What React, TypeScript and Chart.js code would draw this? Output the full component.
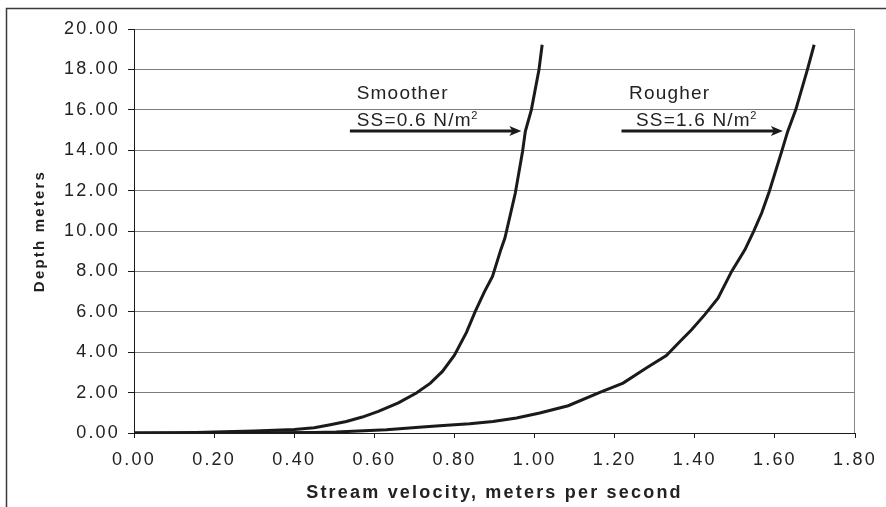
import React, { useEffect, useRef } from 'react';
import { Chart, registerables } from 'chart.js';

Chart.register(...registerables);

// ---- data ----
const SMOOTH_V = [0, 0.10, 0.155, 0.20, 0.25, 0.30, 0.35, 0.40, 0.45, 0.49, 0.53, 0.57, 0.61, 0.66, 0.705, 0.74, 0.77, 0.80, 0.83, 0.852, 0.875, 0.895, 0.916, 0.926, 0.952, 0.970, 0.977, 0.992, 1.011, 1.019];
const SMOOTH_D = [0, 0.01, 0.03, 0.05, 0.07, 0.10, 0.13, 0.17, 0.26, 0.41, 0.57, 0.79, 1.07, 1.49, 1.98, 2.47, 3.05, 3.85, 4.98, 6.02, 7.0, 7.75, 9.09, 9.65, 11.88, 13.94, 14.93, 16.0, 17.98, 19.22];

const ROUGH_V = [0, 0.15, 0.30, 0.45, 0.505, 0.56, 0.63, 0.72, 0.763, 0.838, 0.896, 0.955, 1.013, 1.084, 1.163, 1.221, 1.279, 1.329, 1.363, 1.392, 1.425, 1.458, 1.492, 1.525, 1.547, 1.567, 1.586, 1.617, 1.632, 1.652, 1.681, 1.698];
const ROUGH_D = [0, 0.0, 0.01, 0.03, 0.05, 0.10, 0.16, 0.30, 0.36, 0.46, 0.57, 0.74, 0.99, 1.35, 2.01, 2.47, 3.22, 3.83, 4.53, 5.11, 5.86, 6.68, 8.0, 9.07, 9.98, 10.89, 11.96, 13.94, 14.93, 16.0, 17.98, 19.22];

const X_TICKS = [0, 0.2, 0.4, 0.6, 0.8, 1.0, 1.2, 1.4, 1.6, 1.8];
const Y_TICKS = [0, 2, 4, 6, 8, 10, 12, 14, 16, 18, 20];

const X_TITLE = 'Stream velocity, meters per second';
const Y_TITLE = 'Depth meters';

// annotation labels, anchored in data units
const NOTE_TITLES = ['Smoother', 'Rougher'];
const NOTE_SS = ['SS=0.6 N/m', 'SS=1.6 N/m'];
const NOTE_SUP = '2';
const NOTE_TITLE_X = [0.556, 1.236];
const NOTE_TITLE_Y = 16.53;
const NOTE_SS_X = [0.556, 1.253];
const NOTE_SS_Y = 15.18;
const ARROW_FROM = [0.539, 1.217];
const ARROW_TO = [0.967, 1.620];
const ARROW_Y = 14.95;

const FONT = '"Liberation Sans", Arial, Helvetica, sans-serif';
const INK = '#1a1a1a';

const framePlugin = {
  id: 'frame',
  beforeDraw(chart: any) {
    const ctx = chart.ctx;
    ctx.letterSpacing = '2.2px';
    ctx.save();
    ctx.strokeStyle = '#3a3a3a';
    ctx.lineWidth = 1.5;
    ctx.beginPath();
    ctx.moveTo(6.5, chart.height);
    ctx.lineTo(6.5, 8.5);
    ctx.lineTo(chart.width, 8.5);
    ctx.stroke();
    ctx.restore();
  },
  beforeDatasetsDraw(chart: any) {
    const { ctx, chartArea: a } = chart;
    ctx.save();
    ctx.strokeStyle = '#8a8a8a';
    ctx.lineWidth = 1;
    ctx.beginPath();
    ctx.moveTo(Math.round(a.right) - 0.5, a.top);
    ctx.lineTo(Math.round(a.right) - 0.5, a.bottom);
    ctx.stroke();
    ctx.restore();
  },
};

const notesPlugin = {
  id: 'notes',
  afterDatasetsDraw(chart: any) {
    const { ctx, scales } = chart;
    const xs = scales.x;
    const ys = scales.y;
    ctx.save();
    ctx.letterSpacing = '1.2px';
    ctx.fillStyle = '#222';
    ctx.textBaseline = 'alphabetic';
    ctx.textAlign = 'left';
    for (let i = 0; i < NOTE_TITLES.length; i++) {
      ctx.font = `19px ${FONT}`;
      ctx.fillText(NOTE_TITLES[i], xs.getPixelForValue(NOTE_TITLE_X[i]), ys.getPixelForValue(NOTE_TITLE_Y));
      const sx = xs.getPixelForValue(NOTE_SS_X[i]);
      const sy = ys.getPixelForValue(NOTE_SS_Y);
      ctx.fillText(NOTE_SS[i], sx, sy);
      const w = ctx.measureText(NOTE_SS[i]).width;
      ctx.font = `11px ${FONT}`;
      ctx.fillText(NOTE_SUP, sx + w - 0.5, sy - 7);

      // arrow
      const x1 = xs.getPixelForValue(ARROW_FROM[i]);
      const x2 = xs.getPixelForValue(ARROW_TO[i]);
      const y = Math.round(ys.getPixelForValue(ARROW_Y));
      ctx.strokeStyle = INK;
      ctx.fillStyle = INK;
      ctx.lineWidth = 3;
      ctx.beginPath();
      ctx.moveTo(x1, y);
      ctx.lineTo(x2 - 8, y);
      ctx.stroke();
      ctx.beginPath();
      ctx.moveTo(x2, y);
      ctx.lineTo(x2 - 12, y - 5);
      ctx.lineTo(x2 - 9, y);
      ctx.lineTo(x2 - 12, y + 5);
      ctx.closePath();
      ctx.fill();
      ctx.fillStyle = '#222';
    }
    ctx.restore();
  },
};

export default function App() {
  const ref = useRef<HTMLCanvasElement | null>(null);

  useEffect(() => {
    if (!ref.current) return;
    Chart.defaults.font.family = FONT;
    const fmt = (v: any) => Number(v).toFixed(2);
    const chart = new Chart(ref.current, {
      type: 'line',
      data: {
        datasets: [
          {
            label: 'Smoother',
            data: SMOOTH_V.map((v, i) => ({ x: v, y: SMOOTH_D[i] })),
            borderColor: INK,
            borderWidth: 3,
            pointRadius: 0,
            tension: 0,
            fill: false,
          },
          {
            label: 'Rougher',
            data: ROUGH_V.map((v, i) => ({ x: v, y: ROUGH_D[i] })),
            borderColor: INK,
            borderWidth: 3,
            pointRadius: 0,
            tension: 0,
            fill: false,
          },
        ],
      },
      options: {
        responsive: false,
        animation: false,
        events: [],
        layout: { padding: { left: 0, top: 29, right: 31, bottom: 0 } },
        plugins: {
          legend: { display: false },
          tooltip: { enabled: false },
        },
        scales: {
          x: {
            type: 'linear',
            min: 0,
            max: 1.8,
            afterBuildTicks: (s: any) => {
              s.ticks = X_TICKS.map((v) => ({ value: v }));
            },
            afterFit: (s: any) => {
              s.height = 74;
            },
            grid: { drawOnChartArea: false, drawTicks: true, tickLength: 5, tickColor: INK, tickWidth: 1 },
            border: { color: INK, width: 1 },
            ticks: {
              callback: fmt,
              font: { size: 18 },
              color: '#222',
              padding: 11,
              maxRotation: 0,
              autoSkip: false,
            },
            title: {
              display: true,
              text: X_TITLE,
              font: { size: 18, weight: 'bold' },
              color: '#222',
              padding: { top: 0, bottom: 3 },
            },
          },
          y: {
            type: 'linear',
            min: 0,
            max: 20,
            afterBuildTicks: (s: any) => {
              s.ticks = Y_TICKS.map((v) => ({ value: v }));
            },
            afterFit: (s: any) => {
              s.width = 134;
            },
            grid: { color: '#7c7c7c', lineWidth: 1, tickLength: 6, tickColor: INK },
            border: { color: INK, width: 1 },
            ticks: {
              callback: fmt,
              font: { size: 18 },
              color: '#222',
              padding: 8,
              autoSkip: false,
            },
            title: {
              display: true,
              text: Y_TITLE,
              font: { size: 15, weight: 'bold' },
              color: '#222',
              padding: { top: 31, bottom: 0 },
            },
          },
        },
      } as any,
      plugins: [framePlugin, notesPlugin],
    });
    return () => chart.destroy();
  }, []);

  return (
    <div style={{ position: 'absolute', left: 0, top: 0, width: 886, height: 507, background: '#fff' }}>
      <canvas ref={ref} width={886} height={507} style={{ display: 'block' }} />
    </div>
  );
}
